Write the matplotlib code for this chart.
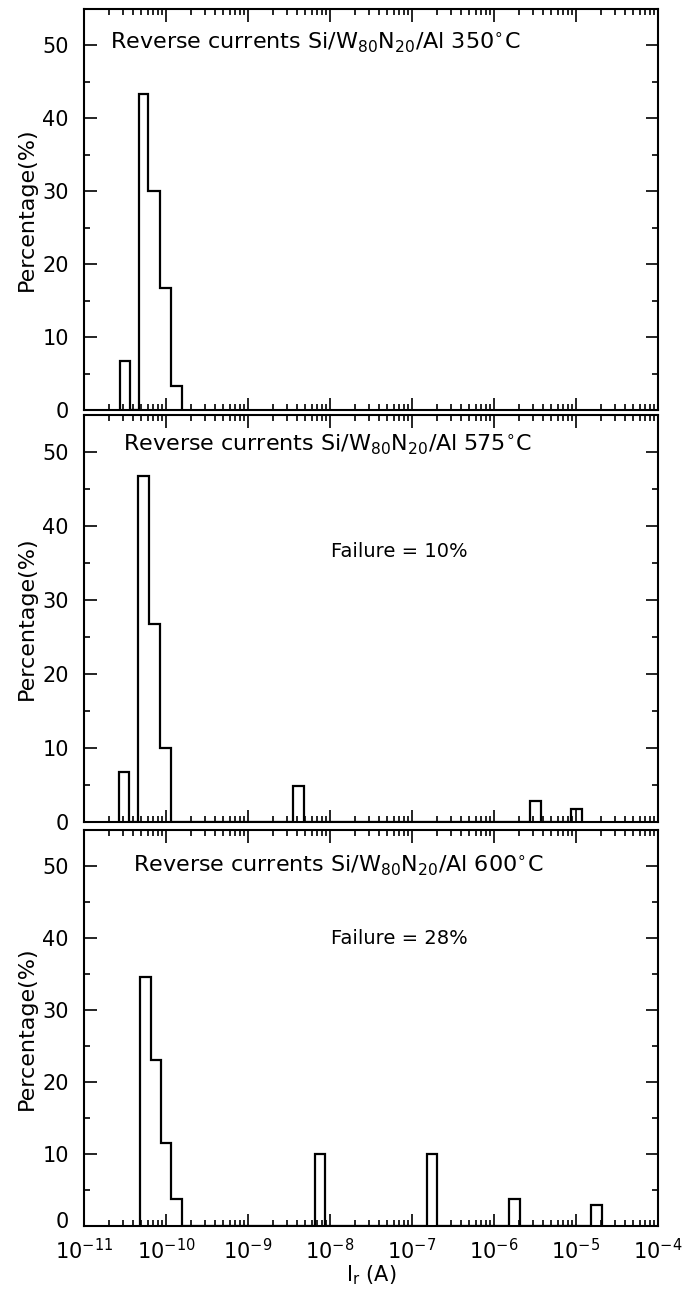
import matplotlib
matplotlib.use("Agg")
import matplotlib.pyplot as plt
import matplotlib.transforms as mtransforms
import numpy as np
from matplotlib.ticker import FixedLocator, MultipleLocator, NullFormatter, LogFormatterSciNotation

# ---------------- data (bin edges in A, percentages) ----------------
p1_edges = [2.72e-11, 3.61e-11, 4.65e-11, 6.1e-11, 8.4e-11, 1.14e-10, 1.55e-10]
p1_pct = [6.7, 0, 43.3, 30.0, 16.7, 3.3]

p2_edges = [2.69e-11, 3.57e-11, 4.6e-11, 6.2e-11, 8.45e-11, 1.14e-10,
            3.56e-9, 4.81e-9, 2.76e-6, 3.73e-6, 8.6e-6, 1.2e-5]
p2_pct = [6.7, 0, 46.7, 26.7, 10.0, 0, 4.9, 0, 2.9, 0, 1.7]

p3_edges = [4.8e-11, 6.5e-11, 8.6e-11, 1.15e-10, 1.55e-10,
            6.55e-9, 8.69e-9, 1.53e-7, 2.02e-7, 1.53e-6, 2.06e-6, 1.53e-5, 2.08e-5]
p3_pct = [34.6, 23.1, 11.5, 3.8, 0, 10.0, 0, 10.0, 0, 3.8, 0, 2.9]

temps = ["350", "575", "600"]
failures = [None, "10%", "28%"]
yticks = [0, 10, 20, 30, 40, 50]
xdecades = [-11, -10, -9, -8, -7, -6, -5, -4]

# ---------------- figure ----------------
plt.rcParams["font.family"] = ["DejaVu Sans"]
plt.rcParams["mathtext.fontset"] = "dejavusans"
plt.rcParams["axes.unicode_minus"] = False

W, H = 684, 1291
fig = plt.figure(figsize=(W / 100, H / 100), dpi=100)
x0, x1 = 84 / W, 658 / W
panels = [(9, 410), (415, 822), (830, 1226)]
title_pos = [(0.045, 50.3), (0.068, 51.0), (0.085, 50.0)]
fail_pos = [None, (0.43, 36.5), (0.43, 40.0)]

all_edges = [p1_edges, p2_edges, p3_edges]
all_pct = [p1_pct, p2_pct, p3_pct]

major_x = [10.0 ** d for d in xdecades]
minor_x = [m * 10.0 ** d for d in xdecades[:-1] for m in range(2, 10)]

for i in range(3):
    top, bot = panels[i]
    ax = fig.add_axes([x0, 1 - bot / H, x1 - x0, (bot - top) / H])
    ax.stairs(all_pct[i], all_edges[i], baseline=0, fill=False,
              color="black", linewidth=1.6)
    ax.set_xscale("log")
    ax.set_xlim(1e-11, 1e-4)
    ax.set_ylim(0, 55)
    ax.xaxis.set_major_locator(FixedLocator(major_x))
    ax.xaxis.set_minor_locator(FixedLocator(minor_x))
    ax.xaxis.set_major_formatter(LogFormatterSciNotation())
    ax.xaxis.set_minor_formatter(NullFormatter())
    ax.yaxis.set_minor_locator(MultipleLocator(5))
    ax.set_yticks(yticks)
    ax.tick_params(which="both", direction="in", top=True, right=True, width=1.2)
    ax.tick_params(which="major", length=9)
    ax.tick_params(which="minor", length=4.5)
    ax.tick_params(axis="y", labelsize=15, pad=11)
    for s in ax.spines.values():
        s.set_linewidth(1.5)
    if i < 2:
        ax.tick_params(axis="x", labelbottom=False)
    else:
        ax.tick_params(axis="x", labelsize=15, pad=9)
        ax.set_xlabel(r"I$_{\mathrm{r}}$ (A)", fontsize=15, labelpad=0)
        # lift the bottom "0" slightly so it clears the 10^-11 label
        lbl0 = ax.get_yticklabels()[0]
        lbl0.set_transform(lbl0.get_transform() +
                           mtransforms.ScaledTranslation(0, 4 / 72, fig.dpi_scale_trans))
    ax.set_ylabel("Percentage(%)", fontsize=16, labelpad=4)

    blend = mtransforms.blended_transform_factory(ax.transAxes, ax.transData)
    tx, ty = title_pos[i]
    ax.text(tx, ty, "Reverse currents Si/W$_{80}$N$_{20}$/Al " + temps[i] + r"$^{\circ}$C",
            transform=blend, fontsize=16, va="center", ha="left")
    if failures[i] is not None:
        fx, fy = fail_pos[i]
        ax.text(fx, fy, "Failure = " + failures[i],
                transform=blend, fontsize=14, va="center", ha="left")

fig.savefig("out.png", dpi=100)
